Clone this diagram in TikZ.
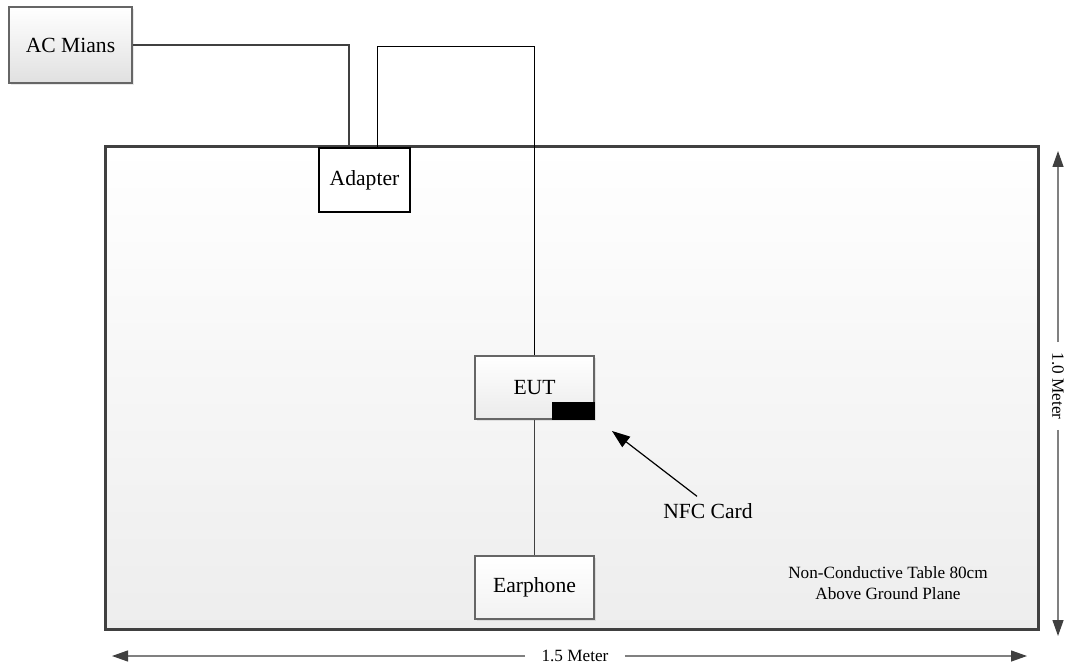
\documentclass[tikz,border=0pt]{standalone}
\usepackage{fontspec}
\setmainfont{Liberation Serif}
\usetikzlibrary{positioning, calc, arrows.meta, shadows}
\definecolor{edgegray}{HTML}{404040}
\definecolor{boxgray}{HTML}{666666}

\begin{document}
\begin{tikzpicture}[x=0.5pt, y=-0.5pt,
        bigtext/.style={font=\fontsize{10.8}{13}\selectfont},
        smalltext/.style={font=\fontsize{8.6}{10.5}\selectfont},
        softshadow/.style={drop shadow={shadow xshift=1.2pt, shadow yshift=-1.2pt, opacity=0.18}},
        unitbox/.style={bigtext, draw=boxgray, line width=0.6pt, top color=white, bottom color=black!8,
            inner sep=0pt, minimum width=59.5pt, minimum height=31.5pt, softshadow},
        tablebox/.style={draw=edgegray, line width=1.5pt, top color=white, bottom color=black!7,
            inner sep=0pt, minimum width=466.5pt, minimum height=241pt, softshadow},
        dimline/.style={draw=black!50, line width=0.6pt,
            -{Triangle[length=8pt, width=5.5pt, color=edgegray, fill=edgegray]}},
        cardarrow/.style={line width=0.6pt, -{Triangle[length=9pt, width=6.5pt]}}]
    \useasboundingbox (0,0) rectangle (1079,667);

    \node[tablebox] (table) at (571.5,388) {};
    \node[smalltext, align=center] (tablenote) at (888,583) {Non-Conductive Table 80cm\\Above Ground Plane};

    \node[unitbox, minimum width=61.5pt, minimum height=38pt, bottom color=black!12] (acmains) at (70.5,45) {AC Mians};
    \node[bigtext, draw, fill=white, line width=0.6pt, inner sep=0pt, minimum width=45.5pt, minimum height=32pt] (adapter) at (364.5,180) {Adapter};
    \node[unitbox] (eut) at (534.5,387.5) {EUT};
    \fill (eut.south east) rectangle ++(-43,-18);
    \node[unitbox, bottom color=black!5] (earphone) at (534.5,587.5) {Earphone};

    \draw[edgegray, line width=1pt] (acmains.east) -| ($(adapter.north)+(-15.5,0)$);
    \draw[line width=0.5pt] ($(adapter.north)+(12.5,0)$) -- ++(0,-101) -| (eut.north);
    \draw[edgegray, line width=0.6pt] (eut.south) -- (earphone.north);

    \node[bigtext] (nfc) at (708,511) {NFC Card};
    \coordinate (nfctip) at (612,431);
    \draw[cardarrow] ([xshift=-5.5pt]nfc.north) -- (nfctip);

    \coordinate (dleft) at (112,656);
    \coordinate (dright) at (1027,656);
    \node[smalltext, inner xsep=8pt] (widthlabel) at (575,656) {1.5 Meter};
    \draw[dimline] (widthlabel.west) -- (dleft);
    \draw[dimline] (widthlabel.east) -- (dright);

    \coordinate (dtop) at (1058,151);
    \coordinate (dbottom) at (1058,636);
    \node[smalltext, rotate=-90, inner xsep=5pt] (heightlabel) at (1058,386) {1.0 Meter};
    \draw[dimline] (heightlabel.west) -- (dtop);
    \draw[dimline] (heightlabel.east) -- (dbottom);
\end{tikzpicture}
\end{document}
